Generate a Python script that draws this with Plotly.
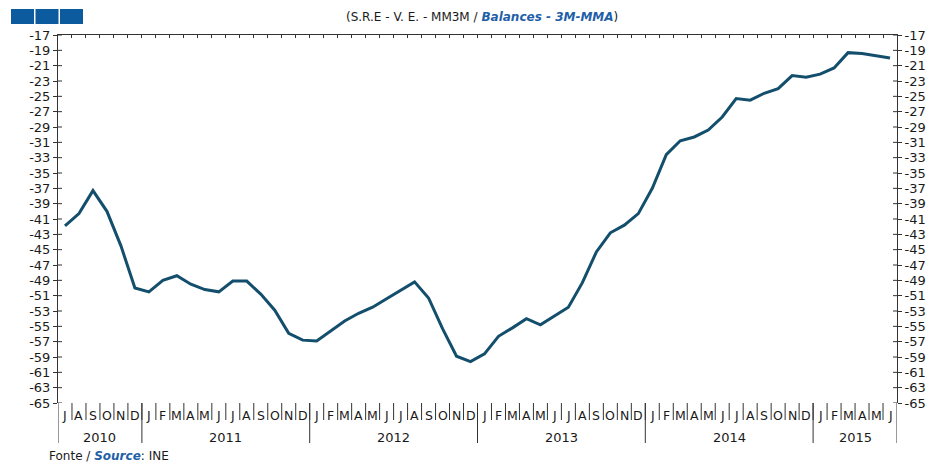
import plotly.graph_objects as go

# Data: S.R.E - V.E., 3-month moving average balances, Jul 2010 - Jun 2015
month_letters = ["J", "A", "S", "O", "N", "D",
                 "J", "F", "M", "A", "M", "J", "J", "A", "S", "O", "N", "D",
                 "J", "F", "M", "A", "M", "J", "J", "A", "S", "O", "N", "D",
                 "J", "F", "M", "A", "M", "J", "J", "A", "S", "O", "N", "D",
                 "J", "F", "M", "A", "M", "J", "J", "A", "S", "O", "N", "D",
                 "J", "F", "M", "A", "M", "J"]
balances = [-41.9, -40.3, -37.3, -40.0, -44.5, -50.0,
            -50.5, -49.0, -48.4, -49.5, -50.2, -50.5, -49.1, -49.1, -50.8, -52.9, -55.9, -56.8,
            -56.9, -55.6, -54.3, -53.3, -52.5, -51.4, -50.3, -49.2, -51.3, -55.3, -58.9, -59.6,
            -58.6, -56.3, -55.2, -54.0, -54.8, -53.6, -52.5, -49.3, -45.3, -42.8, -41.8, -40.3,
            -37.0, -32.6, -30.8, -30.3, -29.4, -27.7, -25.3, -25.5, -24.6, -24.0, -22.3, -22.5,
            -22.1, -21.3, -19.3, -19.4, -19.7, -20.0]
years = ["2010", "2011", "2012", "2013", "2014", "2015"]
months_per_year = [6, 12, 12, 12, 12, 6]
y_ticks = list(range(-17, -66, -2))

W, H = 932, 464
L, R, T, B = 58, 35, 35, 61
pw, ph = W - L - R, H - T - B
FONT = "DejaVu Sans, Arial, sans-serif"
AXIS_COL = "#333333"
BLUE = "#0b5b9e"
TXT = "#1a1a1a"

x_idx = list(range(len(balances)))

fig = go.Figure()
fig.add_trace(go.Scatter(x=x_idx, y=balances, mode="lines",
                         line=dict(color="#134f6c", width=3),
                         hoverinfo="skip", showlegend=False))
# invisible trace to anchor the right-hand axis
fig.add_trace(go.Scatter(x=x_idx, y=balances, mode="lines", yaxis="y2",
                         line=dict(color="rgba(0,0,0,0)", width=0),
                         hoverinfo="skip", showlegend=False))

shapes = []
annotations = []

# cross ticks (inside half) on both vertical axes
for v in y_ticks:
    shapes.append(dict(type="line", xref="paper", yref="y", x0=0, x1=4 / pw, y0=v, y1=v,
                       line=dict(color=AXIS_COL, width=1)))
    shapes.append(dict(type="line", xref="paper", yref="y", x0=1 - 4 / pw, x1=1, y0=v, y1=v,
                       line=dict(color=AXIS_COL, width=1)))

# month separators and letters
for i, m in enumerate(month_letters):
    if i > 0:
        shapes.append(dict(type="line", xref="x", yref="paper", x0=i - 0.5, x1=i - 0.5,
                           y0=0, y1=-17 / ph, line=dict(color=AXIS_COL, width=1)))
    annotations.append(dict(x=i, y=-12 / ph, xref="x", yref="paper", text=m,
                            showarrow=False, font=dict(family=FONT, size=12.5, color=TXT),
                            xanchor="center", yanchor="middle"))

# year separators and labels
start = 0
for yr, n in zip(years, months_per_year):
    shapes.append(dict(type="line", xref="x", yref="paper", x0=start - 0.5, x1=start - 0.5,
                       y0=0, y1=-40 / ph, line=dict(color=AXIS_COL, width=1)))
    annotations.append(dict(x=start + (n - 1) / 2, y=-34 / ph, xref="x", yref="paper",
                            text=yr, showarrow=False,
                            font=dict(family=FONT, size=13, color=TXT),
                            xanchor="center", yanchor="middle"))
    start += n
shapes.append(dict(type="line", xref="x", yref="paper", x0=start - 0.5, x1=start - 0.5,
                   y0=0, y1=-40 / ph, line=dict(color=AXIS_COL, width=1)))

# logo blocks top-left
for k in range(3):
    x0 = 11 + k * 24.5
    shapes.append(dict(type="rect", xref="paper", yref="paper",
                       x0=(x0 - L) / pw, x1=(x0 + 23 - L) / pw,
                       y0=(H - B - 24) / ph, y1=(H - B - 9) / ph,
                       fillcolor=BLUE, line=dict(width=0)))

# title
annotations.append(dict(x=(482 - L) / pw, y=(H - B - 17) / ph, xref="paper", yref="paper",
                        text="(S.R.E - V. E. - MM3M / <b><i><span style='color:#1f5fa8'>"
                             "Balances - 3M-MMA</span></i></b>)",
                        showarrow=False, font=dict(family=FONT, size=12, color=TXT),
                        xanchor="center", yanchor="middle"))
# source
annotations.append(dict(x=(47 - L) / pw, y=(H - B - 456) / ph, xref="paper", yref="paper",
                        text="Fonte / <b><i><span style='color:#1f5fa8'>Source</span></i></b>: INE",
                        showarrow=False, font=dict(family=FONT, size=12, color=TXT),
                        xanchor="left", yanchor="middle"))

fig.update_layout(
    width=W, height=H, autosize=False,
    margin=dict(l=L, r=R, t=T, b=B, pad=0, autoexpand=False),
    paper_bgcolor="white", plot_bgcolor="white",
    font=dict(family=FONT, size=13, color=TXT),
    xaxis=dict(range=[-0.5, len(balances) - 0.5], side="top", automargin=False,
               tickvals=[i - 0.5 for i in range(1, len(balances))],
               ticks="inside", ticklen=3, tickcolor=AXIS_COL,
               showticklabels=False, showgrid=False, zeroline=False,
               showline=True, linecolor=AXIS_COL, linewidth=1),
    yaxis=dict(range=[-65, -17], tickvals=y_ticks, ticktext=[str(v) for v in y_ticks],
               ticks="outside", ticklen=4, tickcolor=AXIS_COL, automargin=False,
               showgrid=False, zeroline=False, showline=True, linecolor=AXIS_COL,
               linewidth=1, tickfont=dict(family=FONT, size=13, color=TXT)),
    yaxis2=dict(range=[-65, -17], tickvals=y_ticks, ticktext=[str(v) for v in y_ticks],
                overlaying="y", side="right", automargin=False,
                ticks="outside", ticklen=4, tickcolor=AXIS_COL,
                showgrid=False, zeroline=False, showline=True, linecolor=AXIS_COL,
                linewidth=1, tickfont=dict(family=FONT, size=13, color=TXT)),
    shapes=shapes,
    annotations=annotations,
)

# page body has a default 8px margin; remove it so the figure sits at the window origin
fig.write_html("out.html", config={"displayModeBar": False},
               post_script=["document.body.style.margin='0';document.body.style.overflow='hidden';"])
